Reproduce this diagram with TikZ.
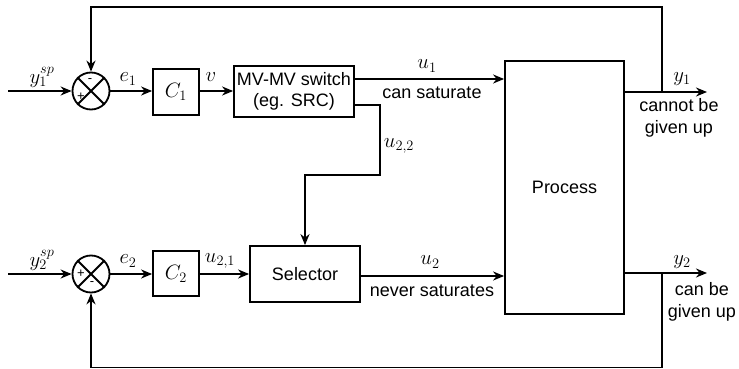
\documentclass[tikz,border=0pt]{standalone}
\usepackage{fontspec}
\setmainfont{Liberation Sans}
\usetikzlibrary{arrows.meta,calc}
\tikzset{
  ln/.style={line width=1.8pt},
  arr/.style={ln,-{Stealth[length=11pt,width=9pt]}},
  block/.style={draw,ln,rectangle,inner sep=0pt},
  sumj/.style={draw,ln,circle,minimum size=37pt,inner sep=0pt},
  txt/.style={font=\fontsize{18}{21.5}\selectfont,align=center,inner sep=0pt},
  mth/.style={font=\fontsize{21}{24}\selectfont,inner sep=0pt},
  sgn/.style={font=\fontsize{13}{13}\selectfont,inner sep=0pt}
}
\begin{document}
\begin{tikzpicture}[x=1pt,y=-1pt]
\useasboundingbox (0,0) rectangle (739,369);
% upper row
\coordinate (in1) at (8,91);
\node[sumj] (s1) at (91,91) {};
\draw[ln] (s1.north west) -- (s1.south east) (s1.north east) -- (s1.south west);
\node[sgn] (p1) at ($(s1.center)+(-10,6)$) {+};
\node[sgn] (m1) at ($(s1.center)+(-1,-10)$) {-};
\node[block,minimum width=46pt,minimum height=46pt,mth] (c1) at (176,92) {$C_1$};
\node[block,minimum width=120pt,minimum height=51pt,txt] (mv) at (294,91.5) {MV-MV switch\\(eg. SRC)};
\node[block,minimum width=119pt,minimum height=253pt] (proc) at (564.5,187.5) {};
\node[txt] (procl) at (564.5,187.5) {Process};
\coordinate (out1) at (707,92);
\coordinate (j1) at (662,92);
\coordinate (t1) at (662,7);
\coordinate (t2) at (91,7);

\draw[arr] (in1) -- (s1.west);
\draw[arr] (s1.east) -- (c1.west |- s1.east);
\draw[arr] (c1.east |- s1.east) -- (mv.west |- s1.east);
\draw[arr] (mv.east |- 0,79) -- (proc.west |- 0,79);
\draw[arr] (proc.east |- out1) -- (out1);
\draw[arr] (j1) -- (t1) -- (t2) -- (s1.north);

\node[mth] (ly1sp) at (42,77) {$y_1^{sp}$};
\node[mth] (le1) at (128,79) {$e_1$};
\node[mth] (lv) at (211,77) {$v$};
\node[mth] (lu1) at (427,66) {$u_1$};
\node[txt] (lcs) at (432,93) {can saturate};
\node[mth] (ly1) at (682,79) {$y_1$};
\node[txt] (lcb) at (679,118) {cannot be\\given up};

% lower row
\coordinate (in2) at (8,274);
\node[sumj] (s2) at (91,274) {};
\draw[ln] (s2.north west) -- (s2.south east) (s2.north east) -- (s2.south west);
\node[sgn] (p2) at ($(s2.center)+(-10,0)$) {+};
\node[sgn] (m2) at ($(s2.center)+(1,10)$) {-};
\node[block,minimum width=46pt,minimum height=45pt,mth] (c2) at (176,273.5) {$C_2$};
\node[block,minimum width=110pt,minimum height=56pt,txt] (sel) at (305,274) {Selector};
\coordinate (out2) at (707,273);
\coordinate (j2) at (662,273);
\coordinate (b1) at (662,367.5);
\coordinate (b2) at (91,367.5);

\draw[arr] (in2) -- (s2.west);
\draw[arr] (s2.east) -- (c2.west |- s2.east);
\draw[arr] (c2.east |- s2.east) -- (sel.west |- s2.east);
\draw[arr] (sel.east |- 0,276) -- (proc.west |- 0,276);
\draw[arr] (proc.east |- out2) -- (out2);
\draw[arr] (j2) -- (b1) -- (b2) -- (s2.south);

% u22
\coordinate (k1) at (380,105);
\coordinate (k2) at (380,175);
\coordinate (k3) at (305,175);
\draw[arr] (mv.east |- k1) -- (k1) -- (k2) -- (k3) -- (sel.north);

\node[mth] (ly2sp) at (42,260) {$y_2^{sp}$};
\node[mth] (le2) at (128,261) {$e_2$};
\node[mth] (lu21) at (220,261) {$u_{2,1}$};
\node[mth] (lu22) at (399,146) {$u_{2,2}$};
\node[mth] (lu2) at (430,262) {$u_2$};
\node[txt] (lns) at (432,291) {never saturates};
\node[mth] (ly2) at (682,262) {$y_2$};
\node[txt] (lgb) at (702,302) {can be\\given up};
\end{tikzpicture}
\end{document}
